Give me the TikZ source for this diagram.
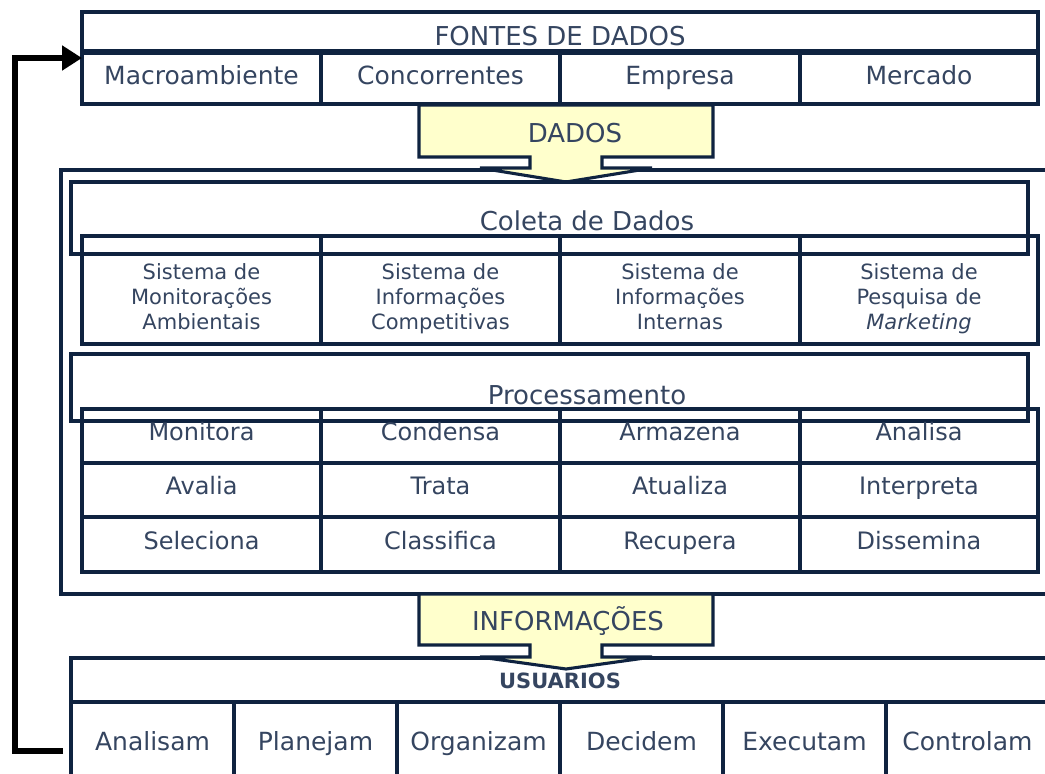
\documentclass[tikz,border=0pt]{standalone}
\usepackage{fontspec}
\setmainfont{DejaVu Sans}
\usetikzlibrary{arrows.meta}
\definecolor{ln}{HTML}{0F2340}
\definecolor{tx}{HTML}{354560}
\definecolor{yel}{HTML}{FFFFCC}
\tikzset{
  box/.style={draw=ln, line width=3.1pt, inner sep=0pt},
  lbl/.style={text=tx, inner sep=0pt, text depth=0pt, align=center},
  big/.style={lbl, font=\fontsize{26}{30}\selectfont, text height=19pt},
  mid/.style={lbl, font=\fontsize{24}{28}\selectfont, text height=17.5pt},
  row/.style={lbl, font=\fontsize{25}{29}\selectfont, text height=18.2pt},
  sml/.style={lbl, font=\fontsize{21}{25}\selectfont, text height=65.3pt},
  callout/.style={draw=ln, line width=3.1pt, fill=yel, line join=miter},
  loop/.style={draw=black, line width=6pt, line join=miter, -{Triangle[length=20pt,width=24pt]}}
}
\newcommand\mkbox[5]{\node[box, minimum width={#4-#2}, minimum height={#5-#3}] (#1) at ({(#2+#4)/2},{(#3+#5)/2}) {};}
\begin{document}
\begin{tikzpicture}[x=1pt,y=-1pt]
\useasboundingbox (0,0) rectangle (1045,774);
% ---------- FONTES DE DADOS
\mkbox{fhead}{82}{12}{1038}{51}
\node[big] (tfontes) at (560,36) {FONTES DE DADOS};
\mkbox{f1}{82}{53}{321}{104}
\mkbox{f2}{321}{53}{560}{104}
\mkbox{f3}{560}{53}{800}{104}
\mkbox{f4}{800}{53}{1038}{104}
\node[row] (tf1) at (201.5,75) {Macroambiente};
\node[row] (tf2) at (440.5,75) {Concorrentes};
\node[row] (tf3) at (680,75) {Empresa};
\node[row] (tf4) at (919,75) {Mercado};
% ---------- outer box
\draw[ln, line width=3.1pt] (1060,170) -- (61,170) -- (61,594) -- (1060,594);
\coordinate (outer) at (61,170);
% ---------- DADOS callout
\draw[callout] (419,105) -- (713,105) -- (713,157) -- (602,157) -- (602,168) -- (652,168) -- (566,182) -- (480,168) -- (530,168) -- (530,157) -- (419,157) -- cycle;
\node[big] (tdados) at (575,133) {DADOS};
% ---------- Coleta de Dados
\mkbox{chead}{71}{182}{1028}{254}
\node[big] (tcoleta) at (587,221) {Coleta de Dados};
\mkbox{c1}{82}{236}{321}{344}
\mkbox{c2}{321}{236}{560}{344}
\mkbox{c3}{560}{236}{800}{344}
\mkbox{c4}{800}{236}{1038}{344}
\node[sml] (tc1) at (201.5,297) {Sistema de\\Monitorações\\Ambientais};
\node[sml] (tc2) at (440.5,297) {Sistema de\\Informações\\Competitivas};
\node[sml] (tc3) at (680,297) {Sistema de\\Informações\\Internas};
\node[sml] (tc4) at (919,297) {Sistema de\\Pesquisa de\\\textit{Marketing}};
% ---------- Processamento
\mkbox{phead}{71}{354}{1028}{421}
\node[big] (tproc) at (587,395) {Processamento};
\mkbox{p11}{82}{409}{321}{463}
\mkbox{p12}{321}{409}{560}{463}
\mkbox{p13}{560}{409}{800}{463}
\mkbox{p14}{800}{409}{1038}{463}
\mkbox{p21}{82}{463}{321}{517}
\mkbox{p22}{321}{463}{560}{517}
\mkbox{p23}{560}{463}{800}{517}
\mkbox{p24}{800}{463}{1038}{517}
\mkbox{p31}{82}{517}{321}{572}
\mkbox{p32}{321}{517}{560}{572}
\mkbox{p33}{560}{517}{800}{572}
\mkbox{p34}{800}{517}{1038}{572}
\node[mid] (tp11) at (201.5,432) {Monitora};
\node[mid] (tp12) at (440.5,432) {Condensa};
\node[mid] (tp13) at (680,432) {Armazena};
\node[mid] (tp14) at (919,432) {Analisa};
\node[mid] (tp21) at (201.5,486) {Avalia};
\node[mid] (tp22) at (440.5,486) {Trata};
\node[mid] (tp23) at (680,486) {Atualiza};
\node[mid] (tp24) at (919,486) {Interpreta};
\node[mid] (tp31) at (201.5,541) {Seleciona};
\node[mid] (tp32) at (440.5,541) {Classifica};
\node[mid] (tp33) at (680,541) {Recupera};
\node[mid] (tp34) at (919,541) {Dissemina};
% ---------- USUARIOS
\mkbox{uhead}{71}{658}{1060}{702}
\mkbox{u1}{71}{702}{234}{790}
\mkbox{u2}{234}{702}{397}{790}
\mkbox{u3}{397}{702}{560}{790}
\mkbox{u4}{560}{702}{723}{790}
\mkbox{u5}{723}{702}{886}{790}
\mkbox{u6}{886}{702}{1060}{790}
% ---------- INFORMACOES callout
\draw[callout] (419,594) -- (713,594) -- (713,645) -- (602,645) -- (602,657) -- (652,657) -- (566,669) -- (480,657) -- (530,657) -- (530,645) -- (419,645) -- cycle;
\node[big] (tinfo) at (568,621) {INFORMAÇÕES};
\node[lbl, font=\fontsize{21}{25}\selectfont\bfseries, text height=15.3pt] (tusu) at (560,681) {USUARIOS};
\node[row] (tu1) at (152.5,741) {Analisam};
\node[row] (tu2) at (315.5,741) {Planejam};
\node[row] (tu3) at (478.5,741) {Organizam};
\node[row] (tu4) at (641.5,741) {Decidem};
\node[row] (tu5) at (804.5,741) {Executam};
\node[row] (tu6) at (967.5,741) {Controlam};
% ---------- feedback arrow
\coordinate (fbstart) at (63,751);
\coordinate (fbend) at (82,58);
\draw[loop] (fbstart) -- (15,751) -- (15,58) -- (fbend);
\end{tikzpicture}
\end{document}
